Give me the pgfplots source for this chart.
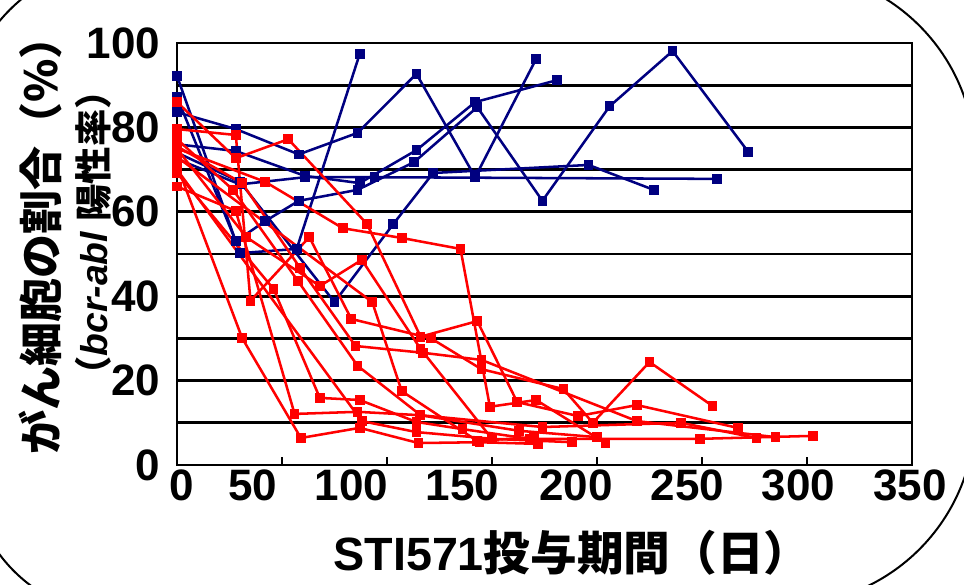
\documentclass[border=0pt]{standalone}
\usepackage{pgfplots}
\pgfplotsset{compat=1.18}
\usepackage{fontspec}
\setmainfont{Liberation Sans}
\newfontfamily\jp{Noto Sans CJK JP}
\definecolor{bl}{RGB}{0,0,128}
\definecolor{rd}{RGB}{255,0,0}
\begin{document}
\begin{tikzpicture}[x=0.75pt,y=0.75pt]
\useasboundingbox (0,0) rectangle (964,585);
\draw[line width=1.5pt] (-40,300) -- (-40,455) arc[start angle=180,end angle=90,radius=170]
  -- (785,615) arc[start angle=90,end angle=0,radius=190]
  -- (975,170) arc[start angle=0,end angle=-90,radius=190]
  -- (120,-30) arc[start angle=270,end angle=180,radius=150] -- cycle;
\begin{axis}[
 at={(132.75pt,90pt)}, anchor=south west,
 scale only axis, width=551.25pt, height=316.5pt,
 xmin=0,xmax=350,ymin=0,ymax=100,
 clip=false,
 axis line style={line width=2.2pt},
 xtick={50,100,...,300}, xticklabels={},
 ytick={0,10,...,100}, yticklabels={0,,20,,40,,60,,80,,100},
 ymajorgrids, grid style={line width=2.2pt, black},
 tick align=inside, xtick pos=lower, ytick pos=left,
 x tick style={line width=2.2pt, black},
 major tick length=6pt,
 y tick style={draw=none},
 extra x ticks={2.4,36,83,136,190,243,296,349},
 extra x tick labels={0,50,100,150,200,250,300,350},
 extra x tick style={major tick length=0pt},
 ticklabel style={font=\fontsize{33}{33}\selectfont\bfseries},
 yticklabel style={xshift=-9pt},
 /pgf/number format/assume math mode=true,
 every axis plot/.append style={line width=1.9pt, mark=square*, mark size=2.7pt, mark options={solid}},
]
% blue series
\addplot[bl] coordinates {(0,83.6) (28,79.6) (58,73.6) (86,78.7) (114,92.7) (142,68.2) (171,96.2)};
\addplot[bl] coordinates {(0,92.2) (30,50.2) (57,51.2) (87,97.4)};
\addplot[bl] coordinates {(0,87.2) (28,53.0) (42,57.8) (58,62.6) (86,65.2) (113,71.8) (143,84.8) (174,62.6) (206,85.0) (236,98.1) (272,74.2)};
\addplot[bl] coordinates {(0,76.0) (28,74.4) (61,68.5) (87,66.8) (114,74.6) (142,86.0) (181,91.2)};
\addplot[bl] coordinates {(0,74.0) (30,67.1) (75,38.6) (103,57.1) (122,69.2) (196,71.1) (227,65.2)};
\addplot[bl] coordinates {(0,72.5) (30,66.5) (61,68.2) (94,68.2) (257,67.8)};
% red series
\addplot[rd] coordinates {(0,86.0) (28,72.7) (53,77.2) (90.5,57.1) (116,30.4) (143,34.1) (162,14.9) (191,11.6) (219,14.2) (267,8.8)};
\addplot[rd] coordinates {(0,79.6) (28,78.2) (35,38.9) (63,54.0) (83,34.6) (121,30.0) (145,22.7) (184,18.0) (198,10.0) (225,24.4) (255,14.0)};
\addplot[rd] coordinates {(0,77.2) (26.7,65.2) (57.6,43.6) (86,23.5) (116,11.8) (174,9.0) (240,10.0) (276,6.4)};
\addplot[rd] coordinates {(0,75.5) (31,66.8) (58.6,46.7) (85,28.2) (117,26.6) (145,24.9) (219,10.4) (285,6.6)};
\addplot[rd] coordinates {(0,75.0) (42,67.1) (79,56.1) (107,53.8) (135,51.2) (149,13.8) (171,15.4) (204,5.2)};
\addplot[rd] coordinates {(0,74.9) (33,54.0) (68,42.4) (88,48.6) (116,27.5) (150,6.2) (188,5.4)};
\addplot[rd] coordinates {(0,71.0) (31,30.1) (59,6.4) (87,8.8) (115,5.2) (144,5.4) (172,5.0)};
\addplot[rd] coordinates {(0,69.2) (46,41.7) (68,15.9) (87,15.4) (114,10.2) (136,8.5) (168,6.2) (249,6.2) (303,6.9)};
\addplot[rd] coordinates {(0,66.0) (28,60.2) (56,12.1) (86,12.6) (115.7,11.8) (163,8.1) (200,6.6)};
\addplot[rd] coordinates {(0,73.0) (93,38.6) (107,17.5) (143,5.7) (170,6.6)};
\addplot[rd] coordinates {(0,70.0) (88,10.4) (114,7.8) (150,6.2)};
\end{axis}
\node[rotate=90, font=\jp\bfseries\fontsize{33}{33}\selectfont] at (40,350) {がん細胞の割合（\%）};
\node[rotate=90, font=\bfseries\fontsize{28}{28}\selectfont] at (93,352) {{\jp （}{\itshape bcr-abl} {\jp 陽性率）}};
\node[font=\bfseries\fontsize{35}{35}\selectfont] at (572,32) {STI571{\jp 投与期間（日）}};
\end{tikzpicture}
\end{document}
